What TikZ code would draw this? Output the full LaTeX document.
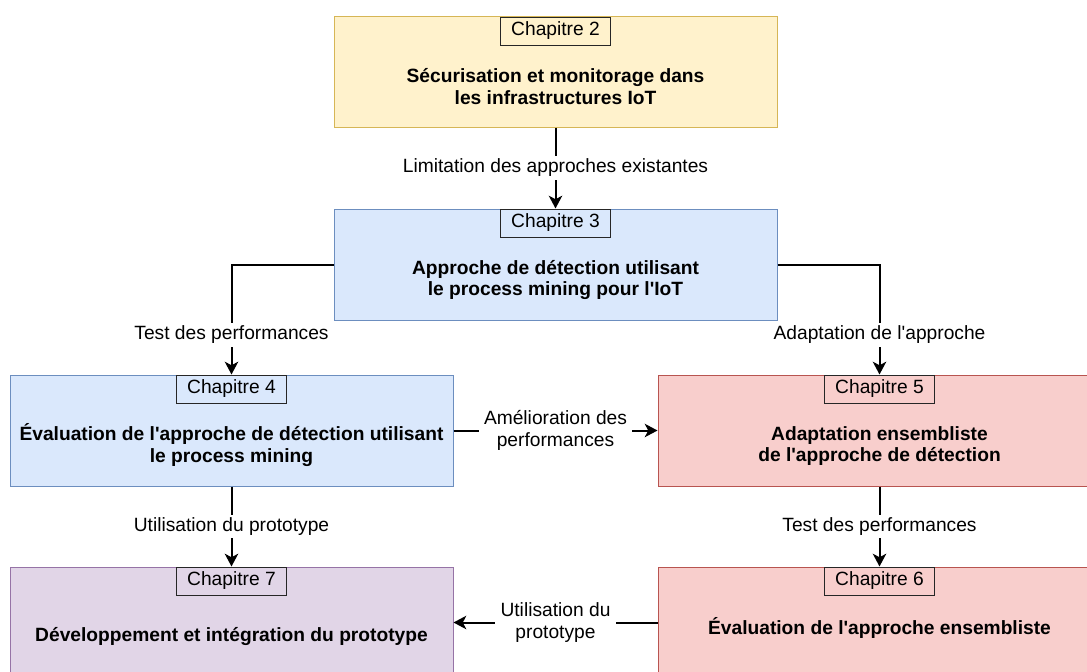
\documentclass[tikz,border=0pt]{standalone}
\usepackage{fontspec}
\setmainfont{Liberation Sans}[Ligatures=TeXOff]
\usetikzlibrary{arrows.meta}

\definecolor{jauneFond}{HTML}{FFF2CC}
\definecolor{jauneBord}{HTML}{D6B656}
\definecolor{bleuFond}{HTML}{DAE8FC}
\definecolor{bleuBord}{HTML}{6C8EBF}
\definecolor{rougeFond}{HTML}{F8CECC}
\definecolor{rougeBord}{HTML}{B85450}
\definecolor{violetFond}{HTML}{E1D5E7}
\definecolor{violetBord}{HTML}{9673A6}

\tikzset{
  chapbox/.style={draw, line width=0.75pt, minimum width=332.25pt, minimum height=83.25pt, inner sep=0pt},
  tagbox/.style={draw=black!85, line width=0.75pt, minimum width=82.5pt, minimum height=21pt, anchor=north, inner sep=0pt, font=\fontsize{14.4}{16}\selectfont},
  titre/.style={align=center, font=\bfseries\fontsize{14.4}{16}\selectfont},
  lien/.style={line width=1.5pt, -{Stealth[length=9.5pt,width=10pt,inset=2.5pt]}},
  etiq/.style={fill=white, align=center, inner xsep=4pt, inner ysep=2pt, font=\fontsize{14.4}{16}\selectfont}
}

\begin{document}
\begin{tikzpicture}[x=0.75pt, y=-0.75pt]
\useasboundingbox (0,0) rectangle (1087,671);
\clip (0,0) rectangle (1087,671);

% les chapitres
\node[chapbox, draw=jauneBord, fill=jauneFond] (ch2) at (555.5,71.5) {};
\node[chapbox, draw=bleuBord, fill=bleuFond] (ch3) at (555.5,264.5) {};
\node[chapbox, draw=bleuBord, fill=bleuFond] (ch4) at (231.5,430.5) {};
\node[chapbox, draw=rougeBord, fill=rougeFond] (ch5) at (879.5,430.5) {};
\node[chapbox, draw=rougeBord, fill=rougeFond] (ch6) at (879.5,622.5) {};
\node[chapbox, draw=violetBord, fill=violetFond] (ch7) at (231.5,622.5) {};

\node[tagbox] (t2) at ([yshift=-0.75pt]ch2.north) {Chapitre 2};
\node[tagbox] (t3) at (ch3.north) {Chapitre 3};
\node[tagbox] (t4) at (ch4.north) {Chapitre 4};
\node[tagbox] (t5) at (ch5.north) {Chapitre 5};
\node[tagbox] (t6) at (ch6.north) {Chapitre 6};
\node[tagbox] (t7) at (ch7.north) {Chapitre 7};

\node[titre] (s2) at (555.5,86.5) {Sécurisation et monitorage dans\\les infrastructures IoT};
\node[titre] (s3) at (555.5,280) {Approche de détection utilisant\\le process mining pour l'IoT};
\node[titre] (s4) at (231.5,445) {Évaluation de l'approche de détection utilisant\\le process mining};
\node[titre] (s5) at (879.5,446) {Adaptation ensembliste\\de l'approche de détection};
\node[titre] (s6) at (879.5,627.5) {Évaluation de l'approche ensembliste};
\node[titre] (s7) at (231.5,636) {Développement et intégration du prototype};

% les liens
\draw[lien] (ch2.south) -- node[etiq] {Limitation des approches existantes} (ch3.north);
\draw[lien] (ch3.west) -| node[etiq, pos=0.82] {Test des performances} (ch4.north);
\draw[lien] (ch3.east) -| node[etiq, pos=0.82] {Adaptation de l'approche} (ch5.north);
\draw[lien] (ch4.east) -- node[etiq] {Amélioration des\\performances} (ch5.west);
\draw[lien] (ch4.south) -- node[etiq] {Utilisation du prototype} (ch7.north);
\draw[lien] (ch5.south) -- node[etiq] {Test des performances} (ch6.north);
\draw[lien] (ch6.west) -- node[etiq] {Utilisation du\\prototype} (ch7.east);
\end{tikzpicture}
\end{document}
